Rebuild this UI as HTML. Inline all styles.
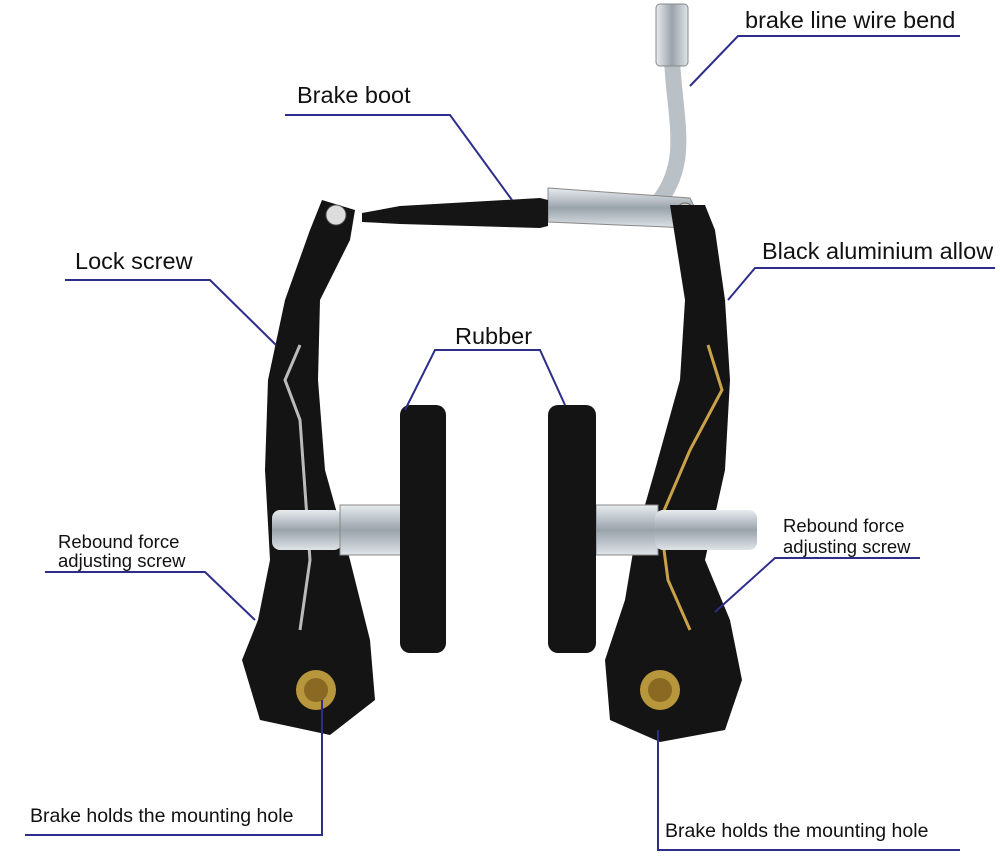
<!DOCTYPE html>
<html><head><meta charset="utf-8"><style>
body{margin:0;background:#fff}
svg{display:block}
text{font-family:"Liberation Sans",Arial,sans-serif;fill:#111}
</style></head><body>
<svg width="1000" height="857" viewBox="0 0 1000 857" xmlns="http://www.w3.org/2000/svg">
<defs>
<linearGradient id="sil" x1="0" y1="0" x2="0" y2="1"><stop offset="0" stop-color="#e8ecef"/><stop offset=".5" stop-color="#9aa3ab"/><stop offset="1" stop-color="#dfe4e8"/></linearGradient>
<linearGradient id="silh" x1="0" y1="0" x2="1" y2="0"><stop offset="0" stop-color="#e8ecef"/><stop offset=".5" stop-color="#9aa3ab"/><stop offset="1" stop-color="#dfe4e8"/></linearGradient>
</defs>
<path d="M672 60 C675 120 690 160 660 200" stroke="#b9c0c6" stroke-width="16" fill="none" stroke-linecap="round"/>
<rect x="656" y="4" width="32" height="62" rx="4" fill="url(#silh)" stroke="#888"/>
<path d="M548 188 L690 198 L700 218 L690 228 L548 222 Z" fill="url(#sil)" stroke="#888"/>
<circle cx="685" cy="211" r="8" fill="#ccc" stroke="#666"/>
<path d="M362 213 L400 206 L540 198 L548 200 L548 226 L540 228 L400 224 L362 222 Z" fill="#151515"/>
<path d="M322 200 L355 210 L350 240 L320 300 L318 380 L325 470 L350 560 L370 640 L375 700 L330 735 L260 720 L242 660 L258 620 L270 560 L265 470 L268 380 L285 300 L310 230 Z" fill="#141414"/>
<circle cx="336" cy="215" r="10" fill="#ddd" stroke="#555"/>
<circle cx="316" cy="690" r="20" fill="#b8963c"/>
<circle cx="316" cy="690" r="12" fill="#8a6a22"/>
<path d="M300 345 L285 380 L300 420 L310 560 L300 630" stroke="#bbb" stroke-width="3" fill="none"/>
<path d="M670 205 L705 205 L715 230 L725 300 L730 380 L725 470 L705 560 L730 620 L742 680 L725 730 L660 742 L610 720 L605 660 L625 600 L635 540 L655 470 L680 380 L685 300 Z" fill="#141414"/>
<circle cx="660" cy="690" r="20" fill="#b8963c"/>
<circle cx="660" cy="690" r="12" fill="#8a6a22"/>
<path d="M708 345 L722 390 L690 450 L660 520 L668 580 L690 630" stroke="#c9a24a" stroke-width="3" fill="none"/>
<rect x="272" y="510" width="70" height="40" rx="8" fill="url(#sil)"/>
<rect x="340" y="505" width="62" height="50" fill="url(#sil)" stroke="#888"/>
<rect x="596" y="505" width="62" height="50" fill="url(#sil)" stroke="#888"/>
<rect x="655" y="510" width="102" height="40" rx="8" fill="url(#sil)"/>
<rect x="400" y="405" width="46" height="248" rx="10" fill="#141414"/>
<rect x="548" y="405" width="48" height="248" rx="10" fill="#141414"/>
<g stroke="#2d2d8c" stroke-width="2" fill="none">
<path d="M960 36 L738 36 L690 86"/>
<path d="M285 115 L450 115 L512 200"/>
<path d="M65 280 L210 280 L276 345"/>
<path d="M995 268 L755 268 L728 300"/>
<path d="M405 410 L435 350 L540 350 L565 405"/>
<path d="M45 572 L205 572 L255 620"/>
<path d="M920 558 L775 558 L715 612"/>
<path d="M25 835 L322 835 L322 700"/>
<path d="M960 850 L658 850 L658 730"/>
</g>
<g font-size="23.5">
<text x="745" y="28">brake line wire bend</text>
<text x="297" y="103">Brake boot</text>
<text x="75" y="269">Lock screw</text>
<text x="762" y="259">Black aluminium allow</text>
<text x="455" y="344">Rubber</text>
</g>
<g font-size="18.5">
<text x="58" y="548">Rebound force</text>
<text x="58" y="567">adjusting screw</text>
<text x="783" y="532">Rebound force</text>
<text x="783" y="553">adjusting screw</text>
</g>
<g font-size="19.5">
<text x="30" y="822">Brake holds the mounting hole</text>
<text x="665" y="837">Brake holds the mounting hole</text>
</g>
</svg>
</body></html>
